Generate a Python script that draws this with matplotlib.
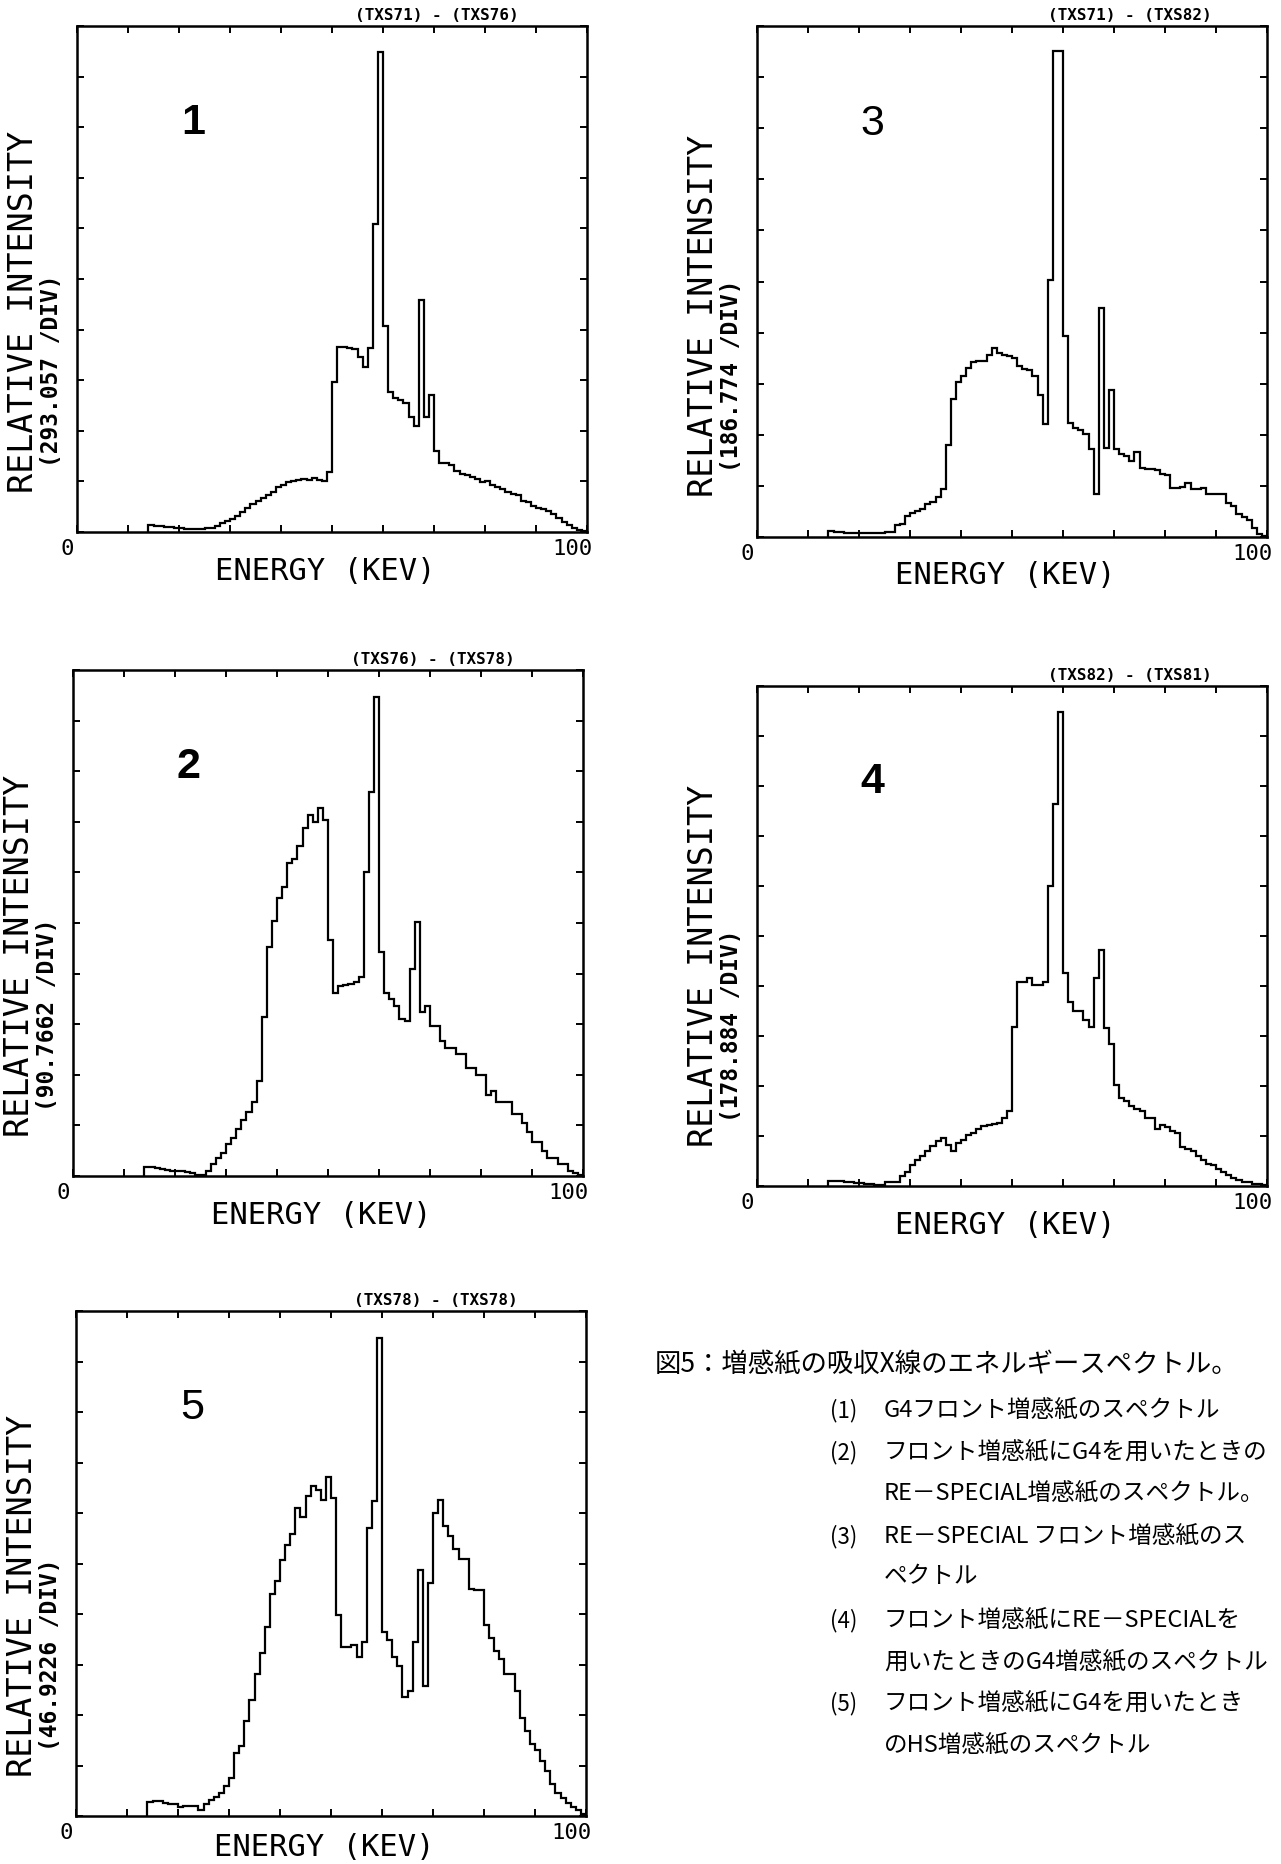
import numpy as np
import matplotlib.pyplot as plt

# x-ray spectra, relative intensity in divisions, 1 keV bins starting at 14 keV
bin_start = 14
bin_width = 1

spec1 = [0.14, 0.12, 0.11, 0.10, 0.09, 0.08, 0.07, 0.06, 0.06, 0.06,
         0.06, 0.07, 0.08, 0.12, 0.17, 0.22, 0.26, 0.32, 0.40, 0.47,
         0.55, 0.62, 0.68, 0.74, 0.80, 0.88, 0.93, 0.98, 1.00, 1.03,
         1.05, 1.02, 1.07, 1.03, 1.00, 1.19, 2.96, 3.66, 3.66, 3.64,
         3.62, 3.45, 3.26, 3.64, 6.08, 9.49, 4.07, 2.77, 2.65, 2.60,
         2.55, 2.28, 2.09, 4.58, 2.28, 2.70, 1.60, 1.36, 1.36, 1.33,
         1.20, 1.15, 1.12, 1.08, 1.05, 0.98, 1.00, 0.92, 0.88, 0.85,
         0.80, 0.76, 0.73, 0.62, 0.60, 0.52, 0.48, 0.46, 0.42, 0.36,
         0.28, 0.20, 0.14, 0.08, 0.03, 0.01]

spec2 = [0.18, 0.17, 0.15, 0.13, 0.12, 0.10, 0.09, 0.10, 0.08, 0.06,
         0.02, 0.02, 0.09, 0.24, 0.35, 0.46, 0.64, 0.75, 0.93, 1.11,
         1.27, 1.47, 1.87, 3.14, 4.52, 5.03, 5.50, 5.72, 6.19, 6.26,
         6.52, 6.88, 7.13, 6.99, 7.28, 7.04, 4.67, 3.61, 3.76, 3.78,
         3.80, 3.83, 3.94, 6.01, 7.58, 9.46, 4.43, 3.61, 3.50, 3.36,
         3.11, 3.07, 4.09, 5.01, 3.25, 3.36, 2.96, 2.96, 2.67, 2.53,
         2.53, 2.42, 2.42, 2.13, 2.13, 2.00, 2.00, 1.60, 1.68, 1.47,
         1.47, 1.47, 1.22, 1.22, 1.04, 0.86, 0.67, 0.67, 0.49, 0.35,
         0.35, 0.24, 0.24, 0.09, 0.05, 0.01]

spec3 = [0.11, 0.10, 0.09, 0.08, 0.08, 0.07, 0.07, 0.07, 0.07, 0.08,
         0.08, 0.09, 0.10, 0.24, 0.26, 0.42, 0.46, 0.50, 0.54, 0.64,
         0.68, 0.78, 0.93, 1.81, 2.70, 3.03, 3.15, 3.30, 3.42, 3.45,
         3.45, 3.56, 3.70, 3.60, 3.56, 3.54, 3.50, 3.34, 3.28, 3.26,
         3.15, 2.77, 2.21, 5.03, 9.51, 9.51, 3.94, 2.24, 2.13, 2.10,
         2.02, 1.72, 0.85, 4.48, 1.75, 2.87, 1.72, 1.62, 1.58, 1.49,
         1.66, 1.36, 1.34, 1.34, 1.32, 1.23, 1.22, 0.96, 0.96, 0.98,
         1.06, 0.93, 0.93, 0.96, 0.85, 0.85, 0.85, 0.84, 0.66, 0.60,
         0.45, 0.40, 0.33, 0.17, 0.06, 0.02]

spec4 = [0.11, 0.10, 0.10, 0.09, 0.08, 0.07, 0.06, 0.05, 0.04, 0.03,
         0.03, 0.09, 0.09, 0.09, 0.20, 0.28, 0.42, 0.53, 0.60, 0.70,
         0.80, 0.91, 0.97, 0.82, 0.71, 0.86, 0.93, 1.02, 1.07, 1.15,
         1.20, 1.22, 1.24, 1.26, 1.36, 1.51, 3.18, 4.09, 4.09, 4.16,
         4.03, 4.03, 4.09, 6.01, 7.64, 9.47, 4.27, 3.69, 3.51, 3.51,
         3.32, 3.18, 4.16, 4.72, 3.16, 2.85, 2.02, 1.76, 1.71, 1.60,
         1.55, 1.50, 1.36, 1.36, 1.15, 1.22, 1.18, 1.11, 1.07, 0.78,
         0.74, 0.71, 0.60, 0.53, 0.45, 0.42, 0.35, 0.28, 0.22, 0.17,
         0.12, 0.09, 0.08, 0.05, 0.04, 0.02]

spec5 = [0.28, 0.30, 0.30, 0.26, 0.23, 0.23, 0.18, 0.20, 0.20, 0.20,
         0.12, 0.23, 0.32, 0.38, 0.45, 0.60, 0.75, 1.24, 1.39, 1.88,
         2.29, 2.81, 3.23, 3.75, 4.39, 4.65, 5.06, 5.36, 5.59, 6.10,
         5.93, 6.34, 6.53, 6.45, 6.26, 6.71, 6.30, 3.98, 3.34, 3.34,
         3.38, 3.15, 3.45, 5.70, 6.23, 9.47, 3.64, 3.49, 3.15, 2.98,
         2.35, 2.48, 3.45, 4.88, 2.57, 4.61, 6.00, 6.26, 5.74, 5.55,
         5.29, 5.08, 5.08, 4.50, 4.48, 4.48, 3.79, 3.53, 3.26, 3.11,
         2.81, 2.81, 2.48, 1.95, 1.69, 1.43, 1.31, 1.09, 0.90, 0.64,
         0.45, 0.35, 0.25, 0.18, 0.11, 0.03]

panel_nums = ['1', '2', '3', '4', '5']
panel_titles = ['(TXS71) - (TXS76)', '(TXS76) - (TXS78)', '(TXS71) - (TXS82)',
                '(TXS82) - (TXS81)', '(TXS78) - (TXS78)']
div_labels = ['(293.057 /DIV)', '(90.7662 /DIV)', '(186.774 /DIV)',
              '(178.884 /DIV)', '(46.9226 /DIV)']
spectra = [spec1, spec2, spec3, spec4, spec5]

caption_head = '図5：増感紙の吸収X線のエネルギースペクトル。'
caption_marks = ['(1)', '(2)', '', '(3)', '', '(4)', '', '(5)', '']
caption_lines = ['G4フロント増感紙のスペクトル',
                 'フロント増感紙にG4を用いたときの',
                 'RE－SPECIAL増感紙のスペクトル。',
                 'RE－SPECIAL フロント増感紙のス',
                 'ペクトル',
                 'フロント増感紙にRE－SPECIALを',
                 '用いたときのG4増感紙のスペクトル',
                 'フロント増感紙にG4を用いたとき',
                 'のHS増感紙のスペクトル']

W, H = 1281, 1865
fig = plt.figure(figsize=(W / 100, H / 100), dpi=100)

# panel frames in pixels: left, top, right, bottom
boxes = [(77, 27, 587, 533), (73, 671, 583, 1177), (757, 27, 1267, 538),
         (757, 687, 1267, 1187), (76, 1312, 586, 1817)]
num_bold = [True, True, False, True, False]
title_x = [0.866, 0.866, 0.892, 0.892, 0.866]
xlab_off = [38, 38, 38, 38, 31]

mono = 'DejaVu Sans Mono'
edges = bin_start + bin_width * np.arange(len(spec1) + 1)

for i in range(5):
    l, t, r, b = boxes[i]
    wpx, hpx = r - l, b - t
    ax = fig.add_axes([l / W, 1 - b / H, wpx / W, hpx / H])
    ax.stairs(spectra[i], edges, baseline=0, color='black', lw=1.6)
    ax.set_xlim(0, 100)
    ax.set_ylim(0, 10)
    ax.set_xticks(np.arange(0, 101, 10))
    ax.set_yticks(np.arange(0, 11, 1))
    ax.tick_params(direction='in', length=5, width=1.4, top=True, right=True,
                   labelbottom=False, labelleft=False)
    for s in ax.spines.values():
        s.set_linewidth(1.8)

    # rotated labels: baseline sits at the given x, letters extend to the left
    ax.text(-44 / wpx, 0.08, 'RELATIVE INTENSITY', transform=ax.transAxes,
            rotation=90, rotation_mode='anchor', ha='left', va='baseline',
            family=mono, fontsize=24)
    ax.text(-19 / wpx, 0.13, div_labels[i], transform=ax.transAxes,
            rotation=90, rotation_mode='anchor', ha='left', va='baseline',
            family=mono, fontsize=16.5, fontweight='bold')
    ax.text(0.487, -xlab_off[i] / hpx, 'ENERGY (KEV)', transform=ax.transAxes,
            ha='center', va='center', family=mono, fontsize=22)
    ax.text(-10 / wpx, -16 / hpx, '0', transform=ax.transAxes,
            ha='center', va='center', family=mono, fontsize=16)
    ax.text(1 - 15 / wpx, -16 / hpx, '100', transform=ax.transAxes,
            ha='center', va='center', family=mono, fontsize=16)
    ax.text(title_x[i], 1 + 7 / hpx, panel_titles[i], transform=ax.transAxes,
            ha='right', va='baseline', family=mono, fontsize=11.5,
            fontweight='bold')
    ax.text(0.227, 0.81, panel_nums[i], transform=ax.transAxes,
            ha='center', va='center', family='Liberation Sans', fontsize=31,
            fontweight='bold' if num_bold[i] else 'normal')

cjk = ['Noto Sans CJK JP', 'DejaVu Sans']
fig.text(655 / W, 1 - 1365 / H, caption_head, family=cjk, fontsize=19,
         ha='left', va='center')
line_y = [1411, 1453, 1494, 1537, 1577, 1621, 1663, 1704, 1746]
for j in range(len(caption_lines)):
    y = 1 - line_y[j] / H
    if caption_marks[j]:
        fig.text(830 / W, y, caption_marks[j], family=cjk, fontsize=16,
                 ha='left', va='center')
    fig.text(884 / W, y, caption_lines[j], family=cjk, fontsize=17,
             ha='left', va='center')

fig.savefig('out.png', dpi=100)
